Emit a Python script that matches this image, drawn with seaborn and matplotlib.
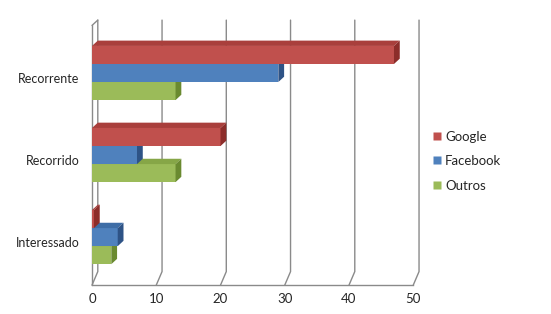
import matplotlib
matplotlib.use("Agg")
import matplotlib.pyplot as plt
import matplotlib.transforms as mtransforms
import seaborn as sns
import pandas as pd
import numpy as np
from matplotlib.patches import Polygon
from matplotlib.lines import Line2D

categories = ["Recorrente", "Recorrido", "Interessado"]
series = ["Google", "Facebook", "Outros"]
google = [47, 20, 0.3]
facebook = [29, 7, 4]
outros = [13, 13, 3]
xticks = [0, 10, 20, 30, 40, 50]

colors = {"Google": "#C0504D", "Facebook": "#4F81BD", "Outros": "#9BBB59"}
dark = {"Google": "#8C2D2A", "Facebook": "#2E5386", "Outros": "#6A8A30"}
top_c = {"Google": "#A93F3C", "Facebook": "#3E6DA6", "Outros": "#86A647"}
zo = {"Google": 3.3, "Facebook": 3.2, "Outros": 3.1}

rows = []
for i, c in enumerate(categories):
    rows.append((c, "Google", google[i]))
    rows.append((c, "Facebook", facebook[i]))
    rows.append((c, "Outros", outros[i]))
df = pd.DataFrame(rows, columns=["cat", "serie", "val"])

sns.set_theme(style="white")
plt.rcParams["font.family"] = ["Lato", "DejaVu Sans"]

fig = plt.figure(figsize=(5.51, 3.14), dpi=100)
ax = fig.add_axes([0.167, 0.092, 0.583, 0.844])

sns.barplot(data=df, y="cat", x="val", hue="serie", order=categories,
            hue_order=series, palette=colors, width=0.66, orient="h",
            ax=ax, legend=False, saturation=1, edgecolor="none", linewidth=0)

ax.set_xlim(0, 50)
ax.set_ylim(2.585, -0.645)

dx = 0.9   # depth in value units
dy = -0.065  # depth in category units (up)

# grid / walls
for v in xticks:
    ax.plot([v + dx, v + dx, v], [-0.645, 2.42, 2.585], color="#8a8a8a", lw=1.0,
            zorder=0.5, clip_on=False)
ax.plot([0, 0], [-0.58, 2.585], color="#8a8a8a", lw=1.0, zorder=0.5, clip_on=False)
ax.plot([0, dx], [-0.58, -0.645], color="#8a8a8a", lw=1.0, zorder=0.5, clip_on=False)

# 3D faces from each bar patch
hue_list = []
for s in series:
    hue_list += [s] * len(categories)
for p, s in zip(ax.patches[:], hue_list):
    p.set_zorder(zo[s])
    x0 = p.get_x()
    w = p.get_width()
    y0 = p.get_y()
    h = p.get_height()
    x1 = x0 + w
    ytop = y0
    ybot = y0 + h
    top = Polygon([(x0, ytop), (x0 + dx, ytop + dy), (x1 + dx, ytop + dy), (x1, ytop)],
                  closed=True, facecolor=top_c[s], edgecolor="none", zorder=zo[s])
    side = Polygon([(x1, ytop), (x1 + dx, ytop + dy), (x1 + dx, ybot + dy), (x1, ybot)],
                   closed=True, facecolor=dark[s], edgecolor="none", zorder=zo[s])
    ax.add_patch(top)
    ax.add_patch(side)

for sp in ["top", "right", "left"]:
    ax.spines[sp].set_visible(False)
ax.spines["bottom"].set_color("#8a8a8a")
ax.spines["bottom"].set_linewidth(1.0)
ax.set_xticks(xticks)
ax.set_xticklabels([str(v) for v in xticks])
ax.tick_params(axis="x", length=4, color="#8a8a8a", labelsize=9.5, pad=2)
ax.tick_params(axis="y", length=0, labelsize=9, pad=9)
ax.set_xlabel("")
ax.set_ylabel("")
shift = mtransforms.ScaledTranslation(0, -6 / 100, fig.dpi_scale_trans)
for lbl in ax.get_yticklabels():
    lbl.set_verticalalignment("center")
    lbl.set_transform(lbl.get_transform() + shift)

handles = [Line2D([0], [0], marker="s", linestyle="none", markersize=6,
                  markerfacecolor=colors[s], markeredgecolor="none", label=s)
           for s in series]
fig.legend(handles=handles, loc="upper left", bbox_to_anchor=(0.76, 0.622),
           frameon=False, fontsize=9.5, handletextpad=0.1, labelspacing=0.95,
           handlelength=1.0)

fig.savefig("out.png", dpi=100)
